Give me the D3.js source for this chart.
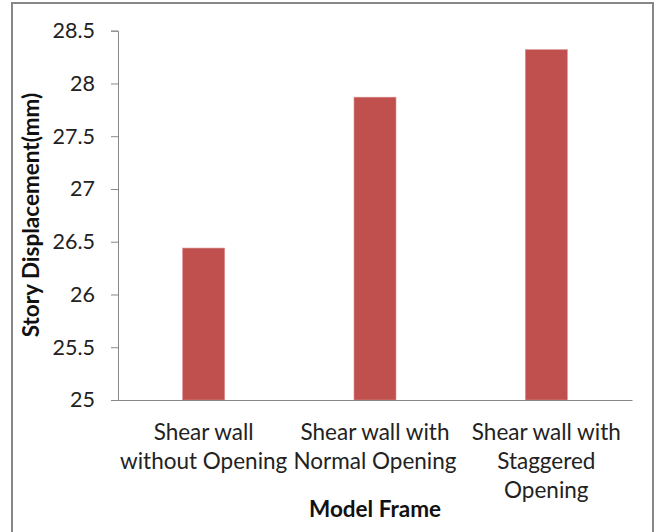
<!DOCTYPE html>
<html><head><meta charset="utf-8">
<script src="https://cdn.jsdelivr.net/npm/d3@7"></script>
<style>body{margin:0;background:#fff}svg{display:block}</style>
</head><body>
<script>
const categories = [["Shear wall","without Opening"],["Shear wall with","Normal Opening"],["Shear wall with","Staggered","Opening"]];
const values = [26.44, 27.87, 28.32];
const yTicks = [25, 25.5, 26, 26.5, 27, 27.5, 28, 28.5];
const yTitle = "Story Displacement(mm)";
const xTitle = "Model Frame";

(function () {
const W = 658, H = 532;
const font = "Lato, 'Open Sans', sans-serif";
const svg = d3.select("body").append("svg").attr("width", W).attr("height", H);
svg.append("rect").attr("x", 12).attr("y", 3).attr("width", 641).attr("height", 540)
  .attr("fill", "#fff").attr("stroke", "#878787").attr("stroke-width", 2);

const mLeft = 118, mRight = 632, mTop = 30.7, mBottom = 400;
const x = d3.scaleBand().domain(d3.range(categories.length)).range([mLeft, mRight]).paddingInner(0.755).paddingOuter(0.3775);
const y = d3.scaleLinear().domain([25, 28.5]).range([mBottom, mTop]);

svg.append("g").selectAll("rect").data(values).join("rect")
  .attr("x", (d, i) => x(i)).attr("width", x.bandwidth())
  .attr("y", d => y(d)).attr("height", d => y(25) - y(d))
  .attr("fill", "#C0504D").attr("stroke", "#D98E8C").attr("stroke-width", 0.6);

const yAxis = svg.append("g").attr("transform", `translate(${mLeft},0)`)
  .call(d3.axisLeft(y).tickValues(yTicks).tickSize(7).tickPadding(16).tickFormat(d3.format("")));
yAxis.select(".domain").attr("stroke", "#888").attr("stroke-width", 1);
yAxis.selectAll(".tick line").attr("stroke", "#888");
yAxis.selectAll("text").attr("font-family", font).attr("font-size", 21.5).attr("fill", "#222");

const xAxis = svg.append("g").attr("transform", `translate(0,${mBottom})`)
  .call(d3.axisBottom(x).tickSize(0).tickFormat(""));
xAxis.select(".domain").attr("stroke", "#888").attr("stroke-width", 1);

const lab = svg.append("g");
categories.forEach((lines, i) => {
  const t = lab.append("text").attr("text-anchor", "middle").attr("font-family", font)
    .attr("font-size", 22.5).attr("fill", "#222");
  lines.forEach((l, j) => {
    t.append("tspan").attr("x", x(i) + x.bandwidth() / 2).attr("y", 440 + j * 29).text(l);
  });
});

svg.append("text").attr("x", 375).attr("y", 517).attr("text-anchor", "middle")
  .attr("font-family", font).attr("font-weight", "bold").attr("font-size", 22.5).attr("fill", "#111").text(xTitle);
svg.append("text").attr("transform", "translate(39,215) rotate(-90)").attr("text-anchor", "middle")
  .attr("font-family", font).attr("font-weight", "bold").attr("font-size", 22.5).attr("fill", "#111").text(yTitle);
})();
</script>
</body></html>
